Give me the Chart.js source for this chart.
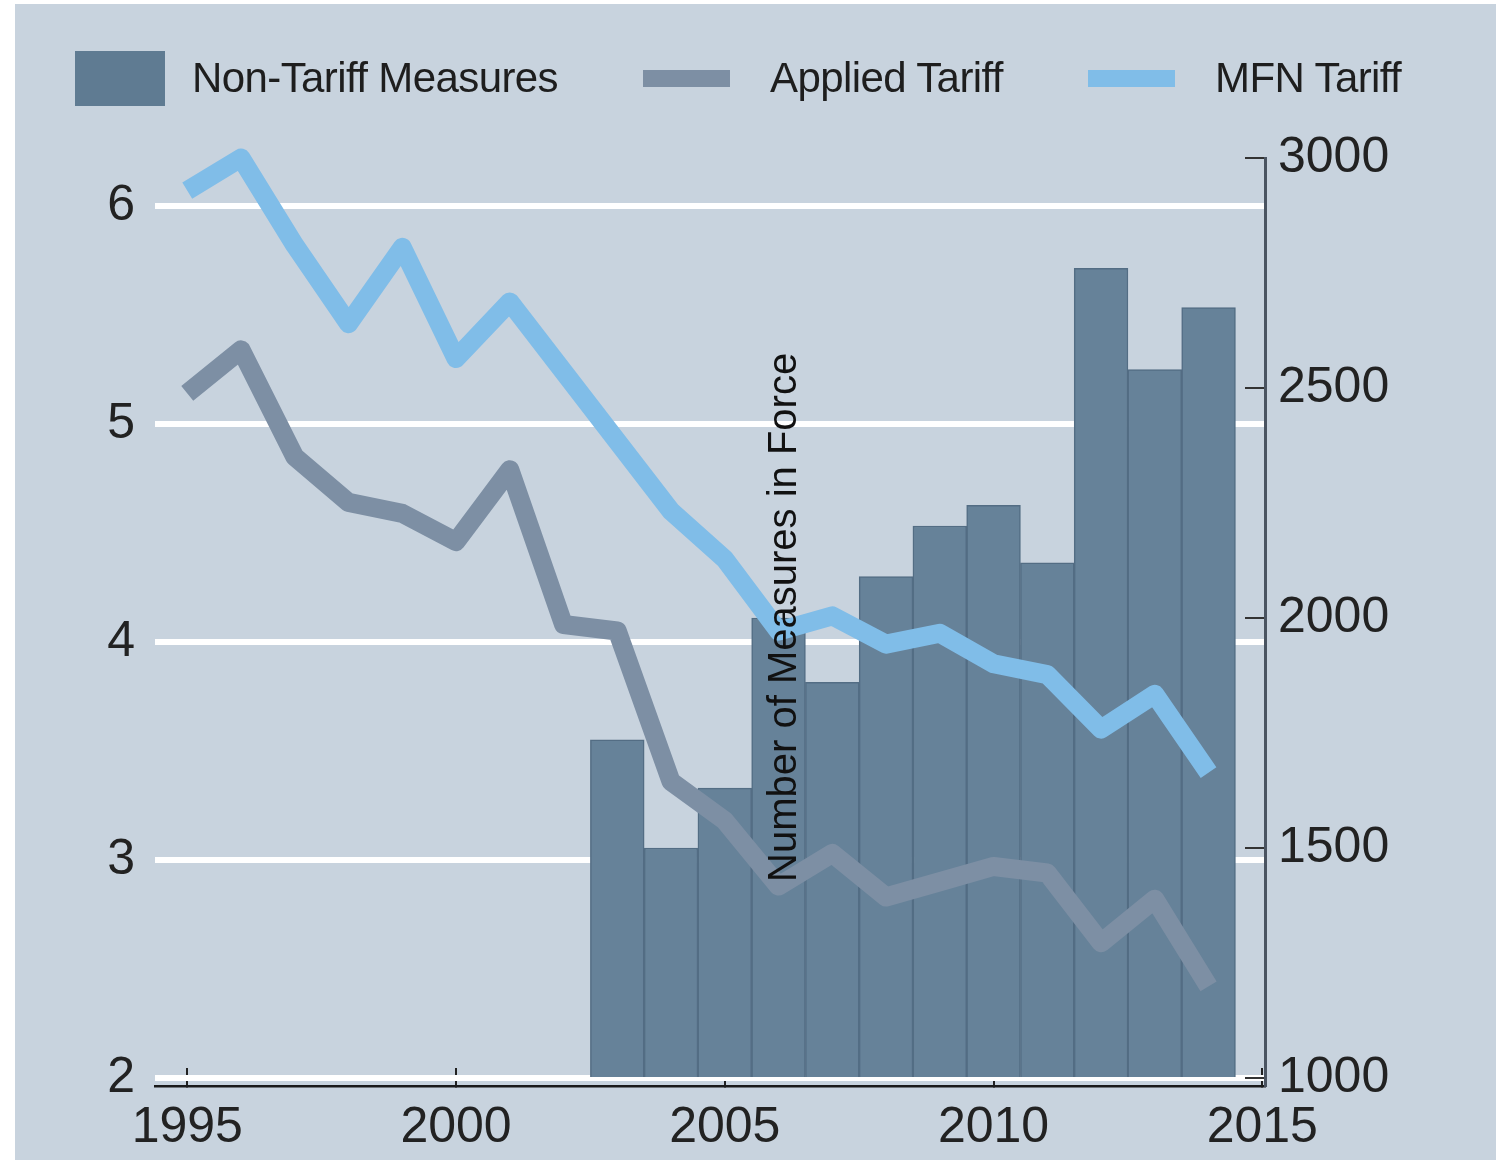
<!DOCTYPE html>
<html>
<head>
<meta charset="utf-8">
<script src="https://cdn.jsdelivr.net/npm/chart.js@4"></script>
<style>
  body { margin: 0; background: #ffffff; }
  #wrap {
    position: absolute; left: 15px; top: 4px;
    width: 1481px; height: 1156px;
    background: #c8d3de;
  }
  #legend { position: absolute; left: 0; top: 0; width: 100%; height: 140px; }
  .lg-item { position: absolute; display: flex; align-items: center; height: 60px; top: 44px; }
  .lg-text {
    font-family: "Liberation Sans", Arial, sans-serif;
    font-size: 42px; letter-spacing: -0.6px; color: #1e1e1e;
  }
</style>
</head>
<body>
<div id="wrap">
  <canvas id="chart-main"></canvas>
  <div id="legend"></div>
</div>
<script>
// データ
const years = [1995, 1996, 1997, 1998, 1999, 2000, 2001, 2002, 2003, 2004,
               2005, 2006, 2007, 2008, 2009, 2010, 2011, 2012, 2013, 2014];
const appliedTariff = [5.14, 5.34, 4.85, 4.64, 4.59, 4.46, 4.79, 4.08, 4.05, 3.36,
                       3.18, 2.88, 3.03, 2.83, 2.90, 2.97, 2.94, 2.62, 2.82, 2.42];
const mfnTariff = [6.07, 6.22, 5.82, 5.46, 5.81, 5.30, 5.56, 5.24, 4.92, 4.60,
                   4.38, 4.05, 4.12, 3.99, 4.04, 3.90, 3.85, 3.60, 3.76, 3.40];
const ntmYears = [2003, 2004, 2005, 2006, 2007, 2008, 2009, 2010, 2011, 2012, 2013, 2014];
const ntmCount = [1735, 1500, 1630, 2000, 1860, 2090, 2200, 2245, 2120, 2760, 2540, 2675];

const xTicks = [1995, 2000, 2005, 2010, 2015];
const leftTicks = [2, 3, 4, 5, 6];
const rightTicks = [1000, 1500, 2000, 2500, 3000];
const rightTitle = 'Number of Measures in Force';

var fontFamily = '"Liberation Sans", Arial, sans-serif';

function toPoints(xs, ys) {
    return xs.map(function (x, i) { return { x: x, y: ys[i] }; });
}

function fixTicks(values) {
    return function (axis) {
        axis.ticks = values.map(function (v) { return { value: v }; });
    };
}

// 右軸タイトル（グラフ中央に縦書き）
var innerTitlePlugin = {
    id: 'innerTitle',
    afterDraw: function (chart) {
        var a = chart.chartArea;
        var ctx = chart.ctx;
        ctx.save();
        ctx.translate(a.left + (a.right - a.left) * 0.5676, a.top + (a.bottom - a.top) * 0.495);
        ctx.rotate(-Math.PI / 2);
        ctx.font = '40px ' + fontFamily;
        ctx.fillStyle = '#111';
        ctx.textAlign = 'center';
        ctx.textBaseline = 'middle';
        ctx.fillText(rightTitle, 0, 0);
        ctx.restore();
    }
};

var data = {
    datasets: [{
        type: 'line',
        label: 'MFN Tariff',
        data: toPoints(years, mfnTariff),
        yAxisID: 'y',
        borderColor: '#80bde8',
        backgroundColor: '#80bde8',
        borderWidth: 19,
        pointRadius: 0,
        tension: 0,
        borderJoinStyle: 'round',
        clip: false,
        order: 1
    }, {
        type: 'line',
        label: 'Applied Tariff',
        data: toPoints(years, appliedTariff),
        yAxisID: 'y',
        borderColor: '#7d8fa4',
        backgroundColor: '#7d8fa4',
        borderWidth: 19,
        pointRadius: 0,
        tension: 0,
        borderJoinStyle: 'round',
        clip: false,
        order: 2
    }, {
        type: 'bar',
        label: 'Non-Tariff Measures',
        data: toPoints(ntmYears, ntmCount),
        yAxisID: 'y1',
        base: 1000,
        backgroundColor: '#668299',
        borderColor: '#536d84',
        borderWidth: 1.5,
        barPercentage: 1,
        categoryPercentage: 1,
        order: 3
    }]
};

var tickFont = { family: fontFamily, size: 50 };

var options = {
    responsive: true,
    maintainAspectRatio: false,
    animation: false,
    layout: { padding: { top: 154, left: 0, right: 0, bottom: 0 } },
    plugins: {
        legend: { display: false },
        tooltip: { enabled: false },
        title: { display: false }
    },
    scales: {
        x: {
            type: 'linear',
            min: 1994.4,
            max: 2015.05,
            offset: false,
            z: 1,
            afterBuildTicks: fixTicks(xTicks),
            afterFit: function (s) { s.height = 74; },
            ticks: {
                font: tickFont,
                color: '#222',
                padding: 30,
                maxRotation: 0,
                autoSkip: false,
                callback: function (v) { return String(v); }
            },
            grid: {
                drawOnChartArea: false,
                offset: false,
                tickLength: -18,
                color: '#222',
                lineWidth: 2
            },
            border: { display: true, color: '#1a1a1a', width: 2.5 }
        },
        y: {
            position: 'left',
            min: 1.963,
            max: 6.22,
            afterBuildTicks: fixTicks(leftTicks),
            afterFit: function (s) { s.width = 140; },
            ticks: { font: tickFont, color: '#222', padding: 20 },
            grid: { color: '#ffffff', lineWidth: 6, drawTicks: false },
            border: { display: false }
        },
        y1: {
            position: 'right',
            min: 982.6,
            max: 3000,
            z: 1,
            afterBuildTicks: fixTicks(rightTicks),
            afterFit: function (s) { s.width = 231; },
            ticks: {
                font: tickFont,
                color: '#222',
                padding: 33,
                callback: function (v) { return String(v); }
            },
            grid: {
                drawOnChartArea: false,
                tickLength: -20,
                color: '#333',
                lineWidth: 2
            },
            border: { display: true, color: '#4a5461', width: 3 }
        }
    }
};

var ctx = document.getElementById('chart-main').getContext('2d');
var chart = new Chart(ctx, {
    type: 'bar',
    data: data,
    options: options,
    plugins: [innerTitlePlugin]
});

// 凡例（HTML）
var legendOrder = ['Non-Tariff Measures', 'Applied Tariff', 'MFN Tariff'];
var legendLayout = [
    { left: 60, w: 90, h: 55, gap: 27 },
    { left: 628, w: 87, h: 17, gap: 40 },
    { left: 1073, w: 87, h: 17, gap: 40 }
];
var legendEl = document.getElementById('legend');
legendOrder.forEach(function (name, i) {
    var ds = chart.data.datasets.find(function (d) { return d.label === name; });
    var lay = legendLayout[i];
    var item = document.createElement('div');
    item.className = 'lg-item';
    item.style.left = lay.left + 'px';
    var sw = document.createElement('span');
    sw.style.display = 'inline-block';
    sw.style.width = lay.w + 'px';
    sw.style.height = lay.h + 'px';
    sw.style.background = ds.type === 'bar' ? '#5f7b92' : ds.borderColor;
    sw.style.marginRight = lay.gap + 'px';
    var tx = document.createElement('span');
    tx.className = 'lg-text';
    tx.textContent = name;
    item.appendChild(sw);
    item.appendChild(tx);
    legendEl.appendChild(item);
});
</script>
</body>
</html>
